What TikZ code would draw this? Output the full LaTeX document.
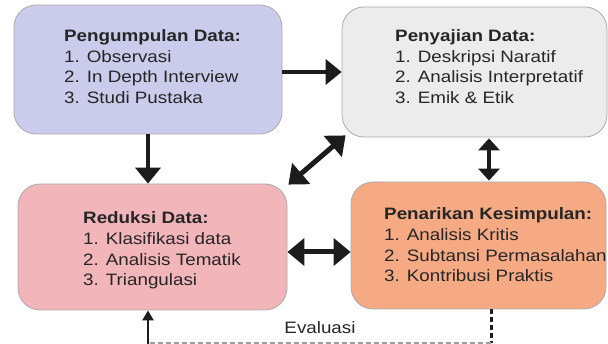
\documentclass[tikz,border=0pt]{standalone}
\usepackage{fontspec}
\setmainfont{Liberation Sans}[FakeStretch=1.14]
\usetikzlibrary{arrows.meta,calc}
\definecolor{fillA}{RGB}{203,203,236}
\definecolor{fillB}{RGB}{236,236,236}
\definecolor{fillC}{RGB}{242,181,185}
\definecolor{fillD}{RGB}{245,170,132}
\definecolor{txtc}{RGB}{38,38,38}
\definecolor{arrc}{RGB}{28,28,28}
\newcommand{\blocktext}[4]{\vtop{\baselineskip=20.6pt\hbox{\bfseries #1}\hbox{#2}\hbox{#3}\hbox{#4}}}
\begin{document}
\begin{tikzpicture}[x=1pt,y=-1pt,
  box/.style={draw=gray!65, line width=0.8pt, rounded corners=22pt, inner sep=0pt},
  blk/.style={anchor=base west, inner sep=0pt, text=txtc, font=\fontsize{16.5}{20.6}\selectfont},
  fatone/.style={draw=arrc, line width=4.5pt, -{Triangle[width=25pt,length=16pt]}},
  fatboth/.style={draw=arrc, line width=5pt, {Triangle[width=27pt,length=17pt]}-{Triangle[width=27pt,length=17pt]}},
  midboth/.style={draw=arrc, line width=3.5pt, {Triangle[width=21pt,length=12pt]}-{Triangle[width=21pt,length=12pt]}},
  thinup/.style={draw=arrc, line width=2pt, -{Triangle[width=11pt,length=10pt]}},
  dashblack/.style={draw=arrc, line width=3pt, dash pattern=on 5pt off 3pt},
  dashgray/.style={draw=gray!75, line width=1.2pt, dash pattern=on 5pt off 3pt}]
\useasboundingbox[fill=white] (0,0) rectangle (608,344);
% boxes
\node[box, fill=fillA, minimum width=268pt, minimum height=129pt] (b1) at (148,69.5) {};
\node[box, fill=fillB, minimum width=265pt, minimum height=130pt] (b2) at (474.5,72) {};
\node[box, fill=fillC, minimum width=269pt, minimum height=126pt] (b3) at (152.5,247) {};
\node[box, fill=fillD, minimum width=255pt, minimum height=127pt] (b4) at (478.5,245.5) {};
% texts
\node[blk] (t1) at (64,41.7) {\blocktext{Pengumpulan Data:}{1. Observasi}{2. In Depth Interview}{3. Studi Pustaka}};
\node[blk] (t2) at (395,41.5) {\blocktext{Penyajian Data:}{1. Deskripsi Naratif}{2. Analisis Interpretatif}{3. Emik \& Etik}};
\node[blk] (t3) at (83,224) {\blocktext{Reduksi Data:}{1. Klasifikasi data}{2. Analisis Tematik}{3. Triangulasi}};
\node[blk] (t4) at (384,220) {\blocktext{Penarikan Kesimpulan:}{1. Analisis Kritis}{2. Subtansi Permasalahan}{3. Kontribusi Praktis}};
% connectors
\draw[fatone] (b1.east |- b2.west) -- (b2.west);
\draw[fatone] (b1.south) -- (b1.south |- b3.north);
\draw[fatboth] ($(b3.north east)+(1,1)$) -- ($(b2.south west)+(4,-2)$);
\draw[fatboth] ($(b3.east)+(0,5)$) -- ($(b4.west)+(0,6.5)$);
\draw[midboth] ($(b2.south)+(14.5,1)$) -- ($(b4.north)+(10.5,-1)$);
% evaluation loop
\coordinate (er) at ($(b4.south)+(12.5,0)$);
\coordinate (ec) at (491,343);
\coordinate (el) at (148,343);
\draw[dashblack] (er) -- (ec);
\draw[dashgray] (ec) -- (el);
\draw[thinup] (148,344) -- (el |- b3.south);
\node[anchor=base, inner sep=0pt, text=txtc, font=\fontsize{16.5}{20}\selectfont] (ev) at (320,334) {Evaluasi};
\end{tikzpicture}
\end{document}
